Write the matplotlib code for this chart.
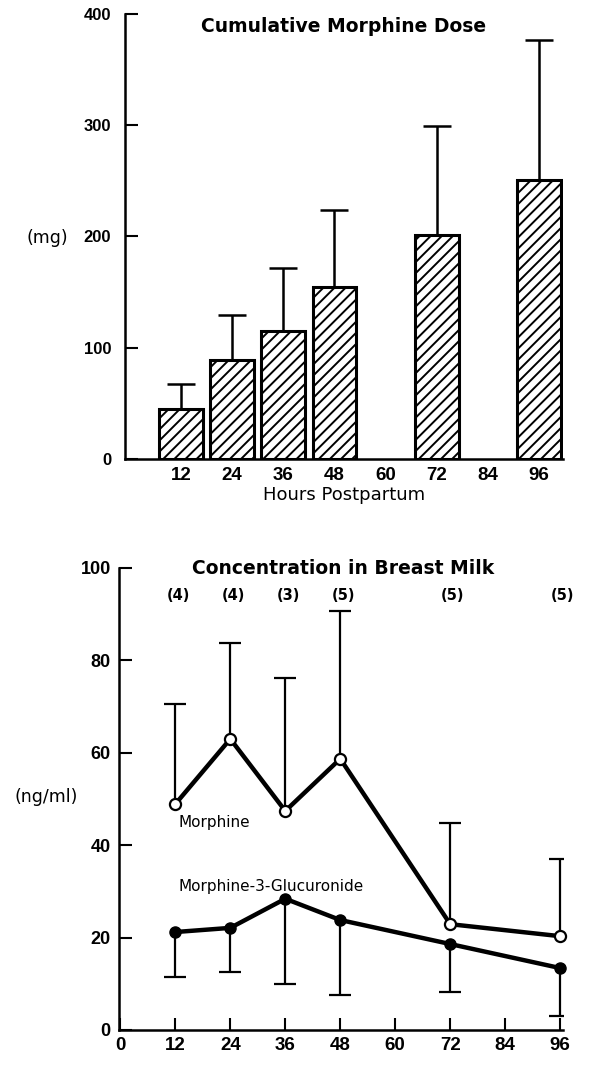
import numpy as np
import matplotlib
matplotlib.use('Agg')
import matplotlib.pyplot as plt

plt.rcParams['font.family'] = ['DejaVu Sans']
plt.rcParams['hatch.linewidth'] = 1.4

# cumulative morphine dose (mg), mean and +SD
dose_hours = [12, 24, 36, 48, 72, 96]
dose_mean = [45, 89, 115, 155, 201, 251]
dose_sd = [22, 40, 57, 69, 98, 126]

# concentration in breast milk (ng/ml)
milk_hours = [12, 24, 36, 48, 72, 96]
morphine = [48.9, 63.0, 47.4, 58.7, 22.9, 20.3]
morphine_sd = [21.7, 20.8, 28.8, 32.0, 21.9, 16.7]
m3g = [21.2, 22.1, 28.4, 23.8, 18.6, 13.4]
m3g_sd = [9.7, 9.5, 18.5, 16.3, 10.4, 10.4]
n_labels = ['(4)', '(4)', '(3)', '(5)', '(5)', '(5)']

xticks = [12, 24, 36, 48, 60, 72, 84, 96]

tick_font = 'Liberation Sans'


def one_sided(ax, x, y, err, up=True, **kw):
    zeros = np.zeros(len(err))
    yerr = [zeros, err] if up else [err, zeros]
    _, caps, _ = ax.errorbar(x, y, yerr=yerr, fmt='none', ecolor='black', **kw)
    # drop the cap on the side with no error
    caps[0 if up else 1].set_visible(False)


def style_ticks(labels, size):
    for lab in labels:
        lab.set_fontfamily(tick_font)
        lab.set_fontweight('bold')
        lab.set_fontsize(size)


fig = plt.figure(figsize=(6.04, 10.70), dpi=100)

# ---- top: cumulative dose bars
ax1 = fig.add_axes([0.207, 0.571, 0.725, 0.416])
ax1.bar(dose_hours, dose_mean, width=10.3, color='white', edgecolor='black',
        linewidth=2.2, hatch='///', zorder=2)
one_sided(ax1, dose_hours, dose_mean, dose_sd, up=True,
          elinewidth=1.8, capsize=10, capthick=1.8, zorder=1)
ax1.set_xlim(-1.15, 101.6)
ax1.set_ylim(0, 400)
ax1.set_yticks([0, 100, 200, 300, 400])
ax1.set_xticks(xticks)
ax1.tick_params(axis='y', direction='in', length=9, width=1.5, pad=10)
ax1.tick_params(axis='x', length=0, pad=6)
style_ticks(ax1.get_yticklabels(), 12)
style_ticks(ax1.get_xticklabels(), 13.5)
ax1.spines['top'].set_visible(False)
ax1.spines['right'].set_visible(False)
ax1.spines['left'].set_linewidth(1.8)
ax1.spines['bottom'].set_linewidth(1.8)
ax1.set_xlabel('Hours Postpartum', fontsize=13, labelpad=1)
fig.text(0.568, 0.975, 'Cumulative Morphine Dose', ha='center', va='center',
         fontsize=13.5, fontweight='bold')
fig.text(0.079, 1 - 238 / 1070, '(mg)', ha='center', va='center', fontsize=12.5)

# ---- bottom: breast milk concentration
ax2 = fig.add_axes([0.197, 0.0374, 0.735, 0.4318])
one_sided(ax2, milk_hours, morphine, morphine_sd, up=True,
          elinewidth=1.6, capsize=8, capthick=1.6, zorder=1)
one_sided(ax2, milk_hours, m3g, m3g_sd, up=False,
          elinewidth=1.6, capsize=8, capthick=1.6, zorder=1)
ax2.plot(milk_hours, morphine, color='black', lw=3.2, marker='o', markersize=8,
         markerfacecolor='white', markeredgecolor='black', markeredgewidth=1.6,
         zorder=3, clip_on=False)
ax2.plot(milk_hours, m3g, color='black', lw=3.2, marker='o', markersize=8,
         markerfacecolor='black', markeredgecolor='black', zorder=3, clip_on=False)
for h, lab in zip(milk_hours, n_labels):
    ax2.text(h + 0.6, 94, lab, ha='center', va='center', fontsize=10.5,
             fontweight='bold', clip_on=False)
ax2.text(12.6, 44.8, 'Morphine', ha='left', va='center', fontsize=11)
ax2.text(12.6, 31, 'Morphine-3-Glucuronide', ha='left', va='center', fontsize=11)
ax2.set_xlim(-0.3, 96.6)
ax2.set_ylim(0, 100)
ax2.set_xticks([0] + xticks)
ax2.set_yticks([0, 20, 40, 60, 80, 100])
ax2.tick_params(axis='both', direction='in', length=9, width=1.5)
ax2.tick_params(axis='y', pad=6)
ax2.tick_params(axis='x', pad=5)
style_ticks(ax2.get_yticklabels(), 13)
style_ticks(ax2.get_xticklabels(), 13.5)
ax2.spines['top'].set_visible(False)
ax2.spines['right'].set_visible(False)
ax2.spines['left'].set_linewidth(1.8)
ax2.spines['bottom'].set_linewidth(1.8)
fig.text(0.568, 1 - 568 / 1070, 'Concentration in Breast Milk', ha='center', va='center',
         fontsize=13.5, fontweight='bold')
fig.text(0.076, 1 - 797 / 1070, '(ng/ml)', ha='center', va='center', fontsize=12.5)

fig.savefig('out.png', dpi=100)
